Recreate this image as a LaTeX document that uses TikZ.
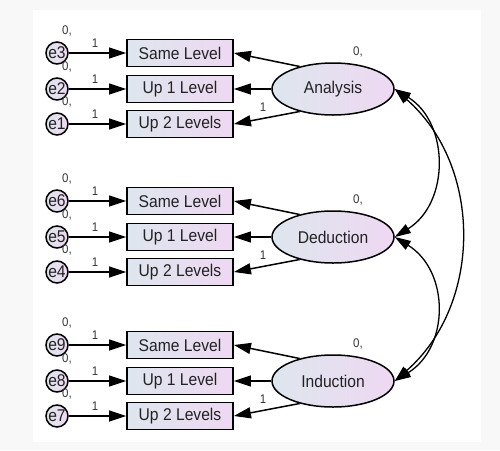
\documentclass[tikz,border=0pt]{standalone}
\usepackage{fontspec}
\setmainfont{Liberation Sans}
\newfontfamily\dfont{Liberation Sans}[FakeStretch=0.92]
\usetikzlibrary{arrows.meta,shapes.geometric}
\definecolor{gl}{RGB}{222,230,238}
\definecolor{gr}{RGB}{238,216,242}
\definecolor{txt}{RGB}{34,34,34}
\definecolor{lbl}{RGB}{55,55,55}
\definecolor{bgc}{RGB}{248,248,248}
\begin{document}
\begin{tikzpicture}[x=1pt,y=-1pt,
  obs/.style={draw=black, line width=1.8pt, minimum width=106pt, minimum height=27pt, inner sep=0pt, left color=gl, right color=gr, font=\dfont\fontsize{17}{19}\selectfont, text=txt},
  lat/.style={ellipse, draw=black, line width=1.5pt, minimum width=122pt, minimum height=52pt, inner sep=0pt, left color=gl, right color=gr, font=\dfont\fontsize{17}{19}\selectfont, text=txt},
  err/.style={circle, draw=black, line width=1.5pt, minimum size=22pt, inner sep=0pt, left color=gl, right color=gr, font=\dfont\fontsize{17}{19}\selectfont, text=txt},
  lab/.style={font=\dfont\fontsize{12.5}{14}\selectfont, text=lbl, inner sep=0pt},
  arr/.style={line width=1.5pt, -{Triangle[length=17pt,width=11pt]}},
  cov/.style={line width=1.3pt, {Triangle[length=16pt,width=10pt]}-{Triangle[length=16pt,width=10pt]}}]
\useasboundingbox (0,0) rectangle (500,450);
\fill[bgc] (0,0) rectangle (500,450);
\fill[white] (33,10) rectangle (481,442);
\foreach \g/\nm/\yc/\ea/\eb/\ec in {1/Analysis/89/3/2/1,2/Deduction/237/6/5/4,3/Induction/381/9/8/7}{
  \node[lat] (L\g) at (333,\yc) {\nm};
  \node[obs] (a\g) at (180,{\yc-36}) {Same Level};
  \node[obs] (b\g) at (180,{\yc}) {Up 1 Level};
  \node[obs] (c\g) at (180,{\yc+35}) {Up 2 Levels};
  \node[err] (e\ea) at (57,{\yc-36}) {e\ea};
  \node[err] (e\eb) at (57,{\yc}) {e\eb};
  \node[err] (e\ec) at (57,{\yc+35}) {e\ec};
  \node[lab] (za\g) at (67,{\yc-58}) {0,};
  \node[lab] (zb\g) at (67,{\yc-22}) {0,};
  \node[lab] (zc\g) at (67,{\yc+13}) {0,};
  \node[lab] (oa\g) at (95,{\yc-46}) {1};
  \node[lab] (ob\g) at (95,{\yc-10}) {1};
  \node[lab] (oc\g) at (95,{\yc+25}) {1};
  \node[lab] (zl\g) at (358,{\yc-37}) {0,};
  \node[lab] (ol\g) at (263,{\yc+18}) {1};
  \draw[arr] (e\ea.east) -- (a\g.west);
  \draw[arr] (e\eb.east) -- (b\g.west);
  \draw[arr] (e\ec.east) -- (c\g.west);
  \draw[arr] (L\g.146) -- (a\g.east);
  \draw[arr] (L\g.west) -- (b\g.east);
  \draw[arr] (L\g.214) -- (c\g.east);
}
\draw[cov] (L1.east) .. controls +(55,34) and +(55,-34) .. (L2.east);
\draw[cov] (L2.east) .. controls +(55,34) and +(55,-34) .. (L3.east);
\draw[cov] (L1.east) .. controls +(88,77) and +(88,-77) .. (L3.east);
\end{tikzpicture}
\end{document}
